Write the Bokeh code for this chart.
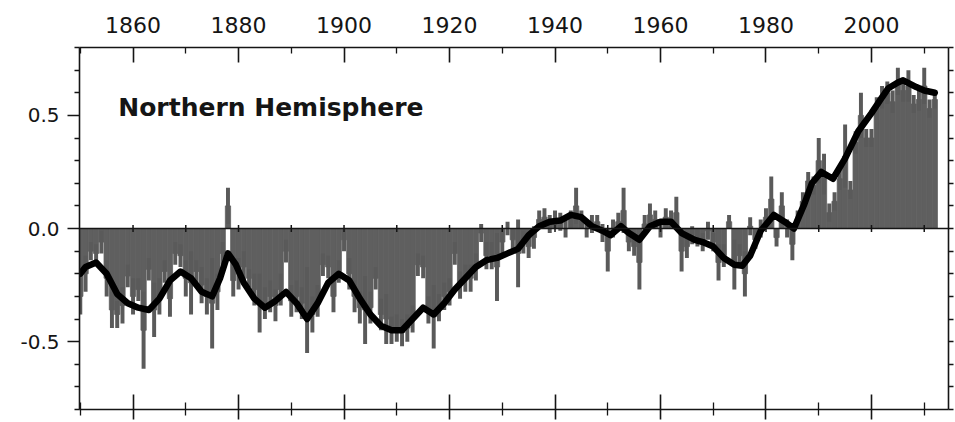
import math
from bokeh.plotting import figure
from bokeh.models import Range1d, LinearAxis, FixedTicker, Span, Label, CustomJSTickFormatter
from bokeh.embed import file_html
from bokeh.resources import INLINE

# ---------------- data ----------------
years = list(range(1850, 2013))

anomaly = [
    -0.30, -0.20, -0.10, -0.11, -0.06, -0.22, -0.36, -0.38, -0.34, -0.21,   # 1850s
    -0.30, -0.27, -0.45, -0.18, -0.36, -0.30, -0.19, -0.31, -0.11, -0.12,   # 1860s
    -0.22, -0.24, -0.19, -0.25, -0.30, -0.33, -0.28, -0.11, 0.10, -0.23,    # 1870s
    -0.20, -0.17, -0.22, -0.27, -0.33, -0.33, -0.30, -0.34, -0.27, -0.10,   # 1880s
    -0.32, -0.30, -0.33, -0.36, -0.38, -0.32, -0.16, -0.17, -0.30, -0.19,   # 1890s
    -0.05, -0.20, -0.30, -0.35, -0.36, -0.35, -0.22, -0.38, -0.40, -0.45,   # 1900s
    -0.44, -0.46, -0.44, -0.40, -0.16, -0.17, -0.36, -0.39, -0.35, -0.30,   # 1910s
    -0.28, -0.11, -0.25, -0.22, -0.22, -0.17, -0.02, -0.12, -0.12, -0.17,   # 1920s
    -0.06, 0.00, -0.05, -0.11, -0.06, -0.08, -0.04, 0.04, 0.05, 0.02,       # 1930s
    0.04, 0.03, 0.00, 0.04, 0.10, 0.04, 0.00, 0.02, 0.03, -0.02,            # 1940s
    -0.10, 0.00, 0.03, 0.08, -0.06, -0.08, -0.15, 0.02, 0.06, 0.04,         # 1950s
    0.00, 0.05, 0.04, 0.07, -0.10, -0.08, -0.03, -0.04, -0.06, -0.01,       # 1960s
    -0.06, -0.15, -0.12, 0.03, -0.16, -0.12, -0.20, 0.01, -0.05, 0.00,      # 1970s
    0.05, 0.13, -0.04, 0.10, 0.00, -0.07, 0.04, 0.12, 0.21, 0.19,           # 1980s
    0.30, 0.24, 0.07, 0.12, 0.22, 0.32, 0.17, 0.38, 0.50, 0.40,             # 1990s
    0.40, 0.53, 0.58, 0.60, 0.56, 0.65, 0.61, 0.63, 0.55, 0.57,             # 2000s
    0.63, 0.53, 0.57,                                                       # 2010-2012
]

error = [
    0.08, 0.08, 0.04, 0.04, 0.05, 0.08, 0.08, 0.06, 0.08, 0.05,   # 1850s
    0.08, 0.05, 0.17, 0.05, 0.12, 0.08, 0.05, 0.08, 0.05, 0.05,   # 1860s
    0.08, 0.14, 0.05, 0.08, 0.08, 0.20, 0.08, 0.05, 0.08, 0.07,   # 1870s
    0.07, 0.07, 0.04, 0.07, 0.13, 0.07, 0.07, 0.07, 0.07, 0.05,   # 1880s
    0.07, 0.07, 0.07, 0.19, 0.08, 0.07, 0.05, 0.05, 0.07, 0.05,   # 1890s
    0.05, 0.07, 0.07, 0.07, 0.15, 0.07, 0.05, 0.07, 0.11, 0.06,   # 1900s
    0.06, 0.06, 0.06, 0.06, 0.05, 0.05, 0.06, 0.14, 0.06, 0.06,   # 1910s
    0.06, 0.05, 0.06, 0.06, 0.06, 0.06, 0.04, 0.06, 0.06, 0.15,   # 1920s
    0.05, 0.03, 0.05, 0.15, 0.05, 0.05, 0.05, 0.04, 0.04, 0.04,   # 1930s
    0.04, 0.04, 0.04, 0.04, 0.08, 0.04, 0.04, 0.04, 0.03, 0.04,   # 1940s
    0.09, 0.04, 0.04, 0.10, 0.04, 0.04, 0.12, 0.04, 0.05, 0.04,   # 1950s
    0.04, 0.04, 0.04, 0.07, 0.09, 0.05, 0.04, 0.04, 0.04, 0.04,   # 1960s
    0.04, 0.08, 0.05, 0.03, 0.11, 0.05, 0.10, 0.04, 0.04, 0.04,   # 1970s
    0.04, 0.10, 0.04, 0.06, 0.04, 0.07, 0.04, 0.04, 0.04, 0.04,   # 1980s
    0.10, 0.09, 0.04, 0.04, 0.05, 0.14, 0.04, 0.05, 0.10, 0.04,   # 1990s
    0.04, 0.05, 0.05, 0.05, 0.05, 0.06, 0.05, 0.07, 0.04, 0.05,   # 2000s
    0.08, 0.04, 0.04,                                             # 2010-2012
]

smooth_years = [
    1850, 1851, 1853, 1855, 1857, 1859, 1861, 1863, 1865, 1867,
    1869, 1871, 1873, 1875, 1876.5, 1878, 1879.5, 1881, 1883, 1885,
    1887, 1889, 1891, 1893, 1895, 1897, 1899, 1901, 1903, 1905,
    1907, 1909, 1911, 1913, 1915, 1917, 1919, 1921, 1923, 1925,
    1927, 1929, 1931, 1933, 1935, 1937, 1939, 1941, 1943, 1945,
    1947, 1949, 1950.5, 1952.5, 1954, 1956, 1958, 1960, 1962, 1964,
    1966.5, 1968, 1970, 1972, 1974, 1975.5, 1977, 1979, 1981.5, 1983.5,
    1985.3, 1987.3, 1988.7, 1990.5, 1992.7, 1995, 1997.5, 2000, 2002, 2003.2,
    2005, 2006, 2008.5, 2010, 2012,
]
smooth_values = [
    -0.20, -0.17, -0.15, -0.20, -0.29, -0.33, -0.35, -0.36, -0.31, -0.23,
    -0.19, -0.22, -0.28, -0.30, -0.22, -0.11, -0.16, -0.24, -0.31, -0.35,
    -0.32, -0.28, -0.33, -0.40, -0.33, -0.24, -0.20, -0.23, -0.31, -0.38,
    -0.43, -0.45, -0.45, -0.40, -0.35, -0.38, -0.33, -0.27, -0.22, -0.17,
    -0.14, -0.13, -0.11, -0.09, -0.03, 0.01, 0.03, 0.035, 0.06, 0.05,
    0.01, -0.01, -0.03, 0.01, -0.02, -0.05, 0.01, 0.03, 0.03, -0.02,
    -0.05, -0.06, -0.08, -0.13, -0.16, -0.165, -0.12, -0.01, 0.06, 0.03,
    0.00, 0.11, 0.20, 0.25, 0.22, 0.31, 0.43, 0.51, 0.58, 0.62,
    0.645, 0.655, 0.625, 0.61, 0.60,
]

x_major_ticks = [1860, 1880, 1900, 1920, 1940, 1960, 1980, 2000]
x_major_labels = ["1860", "1880", "1900", "1920", "1940", "1960", "1980", "2000"]
x_minor_ticks = [1850, 1870, 1890, 1910, 1930, 1950, 1970, 1990, 2010]
zero_marks = [1860, 1870, 1880, 1890, 1900, 1910, 1920, 1930, 1940, 1950,
              1960, 1970, 1980, 1990, 2000, 2010]

y_major_ticks = [-0.5, 0.0, 0.5]
y_major_labels = ["-0.5", "0.0", "0.5"]
y_minor_ticks = [-0.8, -0.7, -0.6, -0.4, -0.3, -0.2, -0.1,
                 0.1, 0.2, 0.3, 0.4, 0.6, 0.7, 0.8]

panel_title = "Northern Hemisphere"

assert len(anomaly) == len(years) == len(error)
assert len(smooth_years) == len(smooth_values)

lower = [a - e for a, e in zip(anomaly, error)]
upper = [a + e for a, e in zip(anomaly, error)]

# ---------------- figure ----------------
p = figure(width=954, height=421,
           x_range=Range1d(1849.85, 2014.6), y_range=Range1d(-0.8, 0.8),
           output_backend="svg", toolbar_location=None,
           x_axis_location=None, y_axis_location=None,
           min_border_left=79, min_border_right=6,
           min_border_top=47, min_border_bottom=12)
p.outline_line_color = None
p.grid.grid_line_color = None
p.background_fill_color = "white"
p.border_fill_color = "white"

INK = "#151515"
BAR = "#5f5f5f"
ERR = "#5a5a5a"

def fmt(tvals, tlabels):
    return CustomJSTickFormatter(args=dict(tvals=tvals, tlabels=tlabels), code="""
        for (let i = 0; i < tvals.length; i++) {
            if (Math.abs(tvals[i] - tick) < 1e-9) { return tlabels[i]; }
        }
        return "";
    """)

def style(ax):
    ax.axis_line_color = INK
    ax.axis_line_width = 1.6
    ax.major_tick_line_color = INK
    ax.major_tick_line_width = 1.6
    ax.minor_tick_line_color = INK
    ax.minor_tick_line_width = 1.3
    ax.major_label_text_color = INK
    ax.major_label_text_font = "DejaVu Sans"

# top axis (labelled)
top = LinearAxis(ticker=FixedTicker(ticks=x_major_ticks, minor_ticks=x_minor_ticks),
                 formatter=fmt(x_major_ticks, x_major_labels))
style(top)
top.major_tick_in = 15
top.major_tick_out = 0
top.minor_tick_in = 6
top.minor_tick_out = 0
top.major_label_text_font_size = "22px"
top.major_label_standoff = 15
p.add_layout(top, "above")

# bottom axis (ticks only)
bottom = LinearAxis(ticker=FixedTicker(ticks=x_major_ticks, minor_ticks=x_minor_ticks),
                    formatter=fmt([], []))
style(bottom)
bottom.major_tick_in = 15
bottom.major_tick_out = 10
bottom.minor_tick_in = 7
bottom.minor_tick_out = 6
bottom.major_label_text_font_size = "0px"
bottom.major_label_standoff = 0
p.add_layout(bottom, "below")

# left axis (labelled)
left = LinearAxis(ticker=FixedTicker(ticks=y_major_ticks, minor_ticks=y_minor_ticks),
                  formatter=fmt(y_major_ticks, y_major_labels))
style(left)
left.major_tick_in = 0
left.major_tick_out = 12
left.minor_tick_in = 0
left.minor_tick_out = 5
left.major_label_text_font_size = "20px"
left.major_label_standoff = 8
p.add_layout(left, "left")

# right axis (ticks only)
right = LinearAxis(ticker=FixedTicker(ticks=y_major_ticks, minor_ticks=y_minor_ticks),
                   formatter=fmt([], []))
style(right)
right.major_tick_in = 0
right.major_tick_out = 5
right.minor_tick_in = 0
right.minor_tick_out = 5
right.major_label_text_font_size = "0px"
right.major_label_standoff = 0
p.add_layout(right, "right")

# annual bars
p.vbar(x=years, top=anomaly, bottom=0, width=1.0,
       fill_color=BAR, line_color=BAR, line_width=0.8)
# uncertainty ranges
p.vbar(x=years, top=upper, bottom=lower, width=0.75,
       fill_color=ERR, line_color=None)

# zero line with decade marks
p.add_layout(Span(location=0, dimension="width", line_color=INK, line_width=1.5))
p.scatter(x=zero_marks, y=[0] * len(zero_marks), marker="dash", angle=math.pi / 2,
          size=7, line_color=INK, line_width=1.5)

# smoothed curve
p.line(smooth_years, smooth_values, line_width=6.5, line_color="black",
       line_join="round", line_cap="round")

p.add_layout(Label(x=1857.2, y=0.535, text=panel_title,
                   text_font="DejaVu Sans", text_font_style="bold",
                   text_font_size="25px", text_baseline="middle",
                   text_color=INK))

open("out.html", "w").write(file_html(p, INLINE))
